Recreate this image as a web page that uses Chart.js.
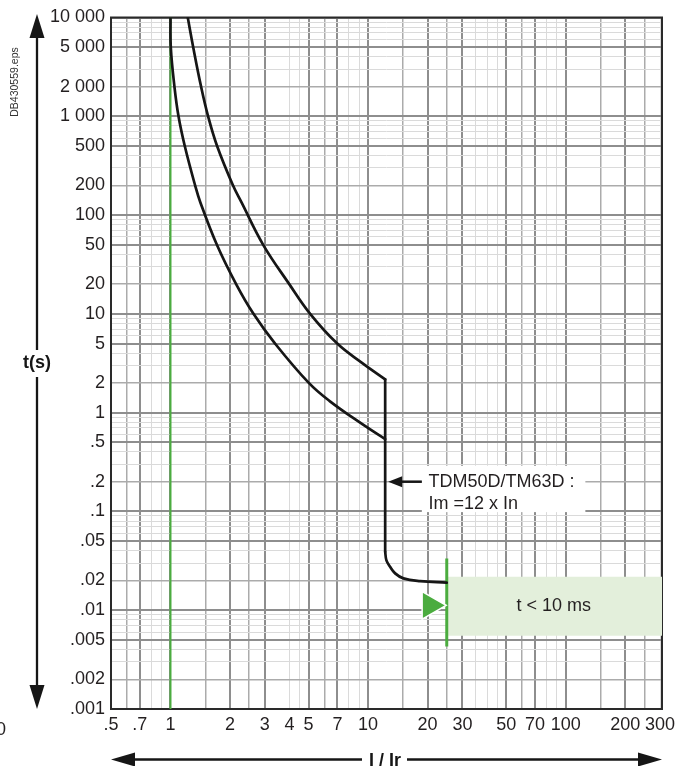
<!DOCTYPE html>
<html><head><meta charset="utf-8">
<script src="https://cdn.jsdelivr.net/npm/chart.js@4/dist/chart.umd.min.js"></script>
<style>html,body{margin:0;padding:0;background:#fff;}canvas{display:block;}</style>
</head><body>
<canvas id="c" width="689" height="766"></canvas>
<script>
// ---------------- data (I/Ir, t in s) ----------------
const lowerCurveI = [1.0, 1.0035, 1.047, 1.098, 1.181, 1.332, 1.415, 1.717, 2.148, 2.63, 3.383, 5.01, 6.39, 9.35, 12.2];
const lowerCurveT = [10000, 5000, 2000, 1000, 500, 200, 135, 50, 20, 10, 5, 2, 1.31, 0.764, 0.54];
const upperCurveI = [1.223, 1.303, 1.428, 1.55, 1.721, 2.07, 2.285, 2.945, 3.99, 5.09, 6.98, 9.31, 12.2];
const upperCurveT = [10000, 5000, 2000, 1000, 500, 200, 135, 50, 20, 10, 5, 3.19, 2.17];
const instantI = [12.2, 12.2];
const instantT = [2.17, 0.039];
const tailI = [12.2, 12.38, 12.92, 13.7, 15.09, 18.33, 25.0];
const tailT = [0.039, 0.032, 0.0275, 0.0236, 0.021, 0.0197, 0.019];
const irLineI = [1, 1];
const irLineT = [0.001, 10000];
const limitLineI = [25, 25];
const limitLineT = [0.0043, 0.0334];
const zoneI = [25, 307, 307, 25, 25];
const zoneT = [0.0218, 0.0218, 0.0055, 0.0055, 0.0218];
const markerI = [20.6];
const markerT = [0.0112];
const zoneText = 't < 10 ms';
const zoneTextI = 87, zoneTextT = 0.011;
const noteLines = ['TDM50D/TM63D :', 'Im =12 x In'];
const noteLineT = [0.2, 0.12];
const noteI = 20.2;
const noteBoxI = [18.7, 125.7];
const noteBoxT = [0.29, 0.0984];
const noteArrowI = [18.7, 12.2];
const noteArrowT = 0.2;

// ---------------- axes ----------------
const xMin = 0.5, xMax = 307, yMin = 0.001, yMax = 10000;
const xGridValues = [0.5,0.6,0.7,0.8,0.9,1,1.5,2,2.5,3,4,4.5,5,6,7,8,9,10,15,20,25,30,35,40,45,50,60,70,80,90,100,150,200,250,300];
const xDarkLines = [0.7,1,2,3,5,7,10,20,30,50,70,100,200];
const xMidLines = [0.6,1.5,2.5,6,15,25,60,150,250];
const xLabelValues = [0.5,0.7,1,2,3,4,5,7,10,20,30,50,70,100,200,300];
const xLabelTexts = ['.5','.7','1','2','3','4','5','7','10','20','30','50','70','100','200','300'];

const yGridValues = [
  0.001,0.002,0.003,0.004,0.005,0.006,0.007,0.008,0.009,
  0.01,0.02,0.03,0.04,0.05,0.06,0.07,0.08,0.09,
  0.1,0.2,0.3,0.4,0.5,0.6,0.7,0.8,0.9,
  1,2,3,4,5,6,7,8,9,
  10,20,30,40,50,60,70,80,90,
  100,200,300,400,500,600,700,800,900,
  1000,2000,3000,4000,5000,6000,7000,8000,9000,
  10000];
const yDarkLines = [10000,5000,1000,500,100,50,10,5,1,0.5,0.1,0.05,0.01,0.005,0.001];
const yMidLines = [2000,200,20,2,0.2,0.02,0.002];
const yLabelValues = [10000,5000,2000,1000,500,200,100,50,20,10,5,2,1,0.5,0.2,0.1,0.05,0.02,0.01,0.005,0.002,0.001];
const yLabelTexts = ['10 000','5 000','2 000','1 000','500','200','100','50','20','10','5','2','1','.5','.2','.1','.05','.02','.01','.005','.002','.001'];

// ---------------- helpers ----------------
const same = (a, b) => Math.abs(a - b) <= Math.abs(b) * 1e-6;
const inList = (v, list) => list.some(w => same(v, w));
const labelFor = (v, vals, texts) => { const i = vals.findIndex(w => same(v, w)); return i >= 0 ? texts[i] : ''; };
const pts = (I, T) => I.map((v, i) => ({x: v, y: T[i]}));
const DARK = '#8e8e8e', MID = '#ababab', LIGHT = '#dadada';
const gridColor = (dark, mid) => ctx => inList(ctx.tick.value, dark) ? DARK : inList(ctx.tick.value, mid) ? MID : LIGHT;
const gridWidth = (dark, mid) => ctx => inList(ctx.tick.value, dark) ? 2 : inList(ctx.tick.value, mid) ? 1.5 : 1;

const FONT = "'Liberation Sans', Arial, sans-serif";
const INK = '#231f20';
const GREEN = '#4bac3f';
Chart.defaults.font.family = FONT;
Chart.defaults.font.size = 18;
Chart.defaults.color = INK;

const curveStyle = {showLine: true, borderColor: '#161616', borderWidth: 2.7, pointRadius: 0, tension: 0.4,
  borderCapStyle: 'round', borderJoinStyle: 'round', fill: false, order: 0};

const decor = {
  id: 'decor',
  beforeDatasetsDraw(chart) {
    const {ctx, chartArea: a, scales: {x, y}} = chart;
    ctx.save();
    ctx.strokeStyle = '#2a2a2a';
    ctx.lineWidth = 2;
    ctx.strokeRect(a.left, a.top, a.right - a.left, a.bottom - a.top);
    const bx0 = x.getPixelForValue(noteBoxI[0]), bx1 = x.getPixelForValue(noteBoxI[1]);
    const by0 = y.getPixelForValue(noteBoxT[0]), by1 = y.getPixelForValue(noteBoxT[1]);
    ctx.fillStyle = '#fff';
    ctx.fillRect(bx0, by0, bx1 - bx0, by1 - by0);
    ctx.restore();
  },
  afterDatasetsDraw(chart) {
    const {ctx, scales: {x, y}} = chart;
    ctx.save();
    const ay = y.getPixelForValue(noteArrowT);
    const tail = x.getPixelForValue(noteArrowI[0]);
    const tip = x.getPixelForValue(noteArrowI[1]) + 3;
    ctx.strokeStyle = '#161616'; ctx.fillStyle = '#161616'; ctx.lineWidth = 2.5;
    ctx.beginPath(); ctx.moveTo(tail, ay); ctx.lineTo(tip + 10, ay); ctx.stroke();
    ctx.beginPath(); ctx.moveTo(tip, ay); ctx.lineTo(tip + 14, ay - 5.5); ctx.lineTo(tip + 14, ay + 5.5); ctx.closePath(); ctx.fill();
    ctx.fillStyle = INK;
    ctx.font = '18px ' + FONT;
    ctx.textAlign = 'left'; ctx.textBaseline = 'middle';
    noteLines.forEach((s, i) => ctx.fillText(s, x.getPixelForValue(noteI), y.getPixelForValue(noteLineT[i])));
    ctx.textAlign = 'center';
    ctx.fillText(zoneText, x.getPixelForValue(zoneTextI), y.getPixelForValue(zoneTextT));
    ctx.restore();
  },
  afterDraw(chart) {
    const ctx = chart.ctx;
    ctx.save();
    ctx.strokeStyle = '#161616'; ctx.fillStyle = '#161616'; ctx.lineWidth = 2.3;
    const ax = 37;
    ctx.beginPath(); ctx.moveTo(ax, 36); ctx.lineTo(ax, 350); ctx.moveTo(ax, 377); ctx.lineTo(ax, 687); ctx.stroke();
    ctx.beginPath(); ctx.moveTo(ax, 14); ctx.lineTo(ax - 7.5, 38); ctx.lineTo(ax + 7.5, 38); ctx.closePath(); ctx.fill();
    ctx.beginPath(); ctx.moveTo(ax, 709); ctx.lineTo(ax - 7.5, 685); ctx.lineTo(ax + 7.5, 685); ctx.closePath(); ctx.fill();
    ctx.font = 'bold 18px ' + FONT;
    ctx.textAlign = 'center'; ctx.textBaseline = 'middle';
    ctx.fillText('t(s)', ax, 363);
    const ay = 759.5;
    ctx.beginPath(); ctx.moveTo(133, ay); ctx.lineTo(362, ay); ctx.moveTo(407, ay); ctx.lineTo(640, ay); ctx.stroke();
    ctx.beginPath(); ctx.moveTo(111, ay); ctx.lineTo(135, ay - 7); ctx.lineTo(135, ay + 7); ctx.closePath(); ctx.fill();
    ctx.beginPath(); ctx.moveTo(662, ay); ctx.lineTo(638, ay - 7); ctx.lineTo(638, ay + 7); ctx.closePath(); ctx.fill();
    ctx.textBaseline = 'alphabetic';
    ctx.fillText('I / Ir', 385, 766);
    ctx.font = '10.5px ' + FONT;
    ctx.fillStyle = '#333';
    ctx.translate(15, 82); ctx.rotate(-Math.PI / 2);
    ctx.textAlign = 'center'; ctx.textBaseline = 'middle';
    ctx.fillText('DB430559.eps', 0, 0);
    ctx.setTransform(1, 0, 0, 1, 0, 0);
    ctx.font = '18px ' + FONT;
    ctx.fillStyle = INK;
    ctx.textAlign = 'left'; ctx.textBaseline = 'alphabetic';
    ctx.fillText('0', -4, 735);
    ctx.restore();
  }
};

new Chart(document.getElementById('c'), {
  type: 'scatter',
  data: {
    datasets: [
      Object.assign({data: pts(upperCurveI, upperCurveT)}, curveStyle),
      Object.assign({data: pts(lowerCurveI, lowerCurveT)}, curveStyle),
      Object.assign({data: pts(instantI, instantT)}, curveStyle, {tension: 0}),
      Object.assign({data: pts(tailI, tailT)}, curveStyle),
      {data: pts(markerI, markerT), showLine: false, pointStyle: 'triangle', rotation: 90, pointRadius: 16,
       backgroundColor: GREEN, borderColor: '#fff', borderWidth: 1.5, order: 1},
      {data: pts(limitLineI, limitLineT), showLine: true, borderColor: GREEN, borderWidth: 3, pointRadius: 0, order: 1},
      {data: pts(irLineI, irLineT), showLine: true, borderColor: GREEN, borderWidth: 2, pointRadius: 0, order: 2},
      {data: pts(zoneI, zoneT), showLine: true, borderWidth: 0, borderColor: 'rgba(0,0,0,0)', pointRadius: 0,
       backgroundColor: '#e3efdb', fill: 'shape', order: 3}
    ]
  },
  options: {
    responsive: false,
    animation: false,
    devicePixelRatio: 1,
    layout: {padding: {left: 0, right: 27, top: 14, bottom: 0}},
    plugins: {legend: {display: false}, tooltip: {enabled: false}},
    scales: {
      x: {
        type: 'logarithmic', min: xMin, max: xMax,
        afterBuildTicks: s => { s.ticks = xGridValues.map(v => ({value: v})); },
        afterFit: s => { s.height = 57; },
        border: {display: false},
        grid: {drawTicks: false, color: gridColor(xDarkLines, xMidLines), lineWidth: gridWidth(xDarkLines, xMidLines)},
        ticks: {autoSkip: false, maxRotation: 0, minRotation: 0, padding: 5,
                callback: v => labelFor(v, xLabelValues, xLabelTexts)}
      },
      y: {
        type: 'logarithmic', min: yMin, max: yMax,
        afterBuildTicks: s => { s.ticks = yGridValues.map(v => ({value: v})); },
        afterFit: s => { s.width = 111; },
        border: {display: false},
        grid: {drawTicks: false, color: gridColor(yDarkLines, yMidLines), lineWidth: gridWidth(yDarkLines, yMidLines)},
        ticks: {autoSkip: false, padding: 6,
                callback: v => labelFor(v, yLabelValues, yLabelTexts)}
      }
    }
  },
  plugins: [decor]
});
</script>
</body></html>
